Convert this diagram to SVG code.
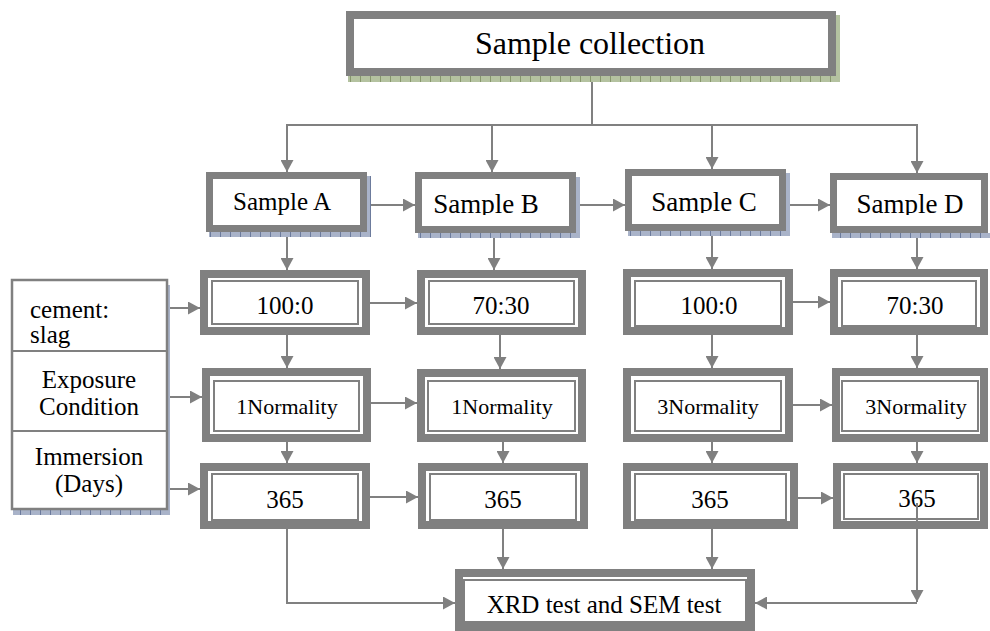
<svg xmlns="http://www.w3.org/2000/svg" width="990" height="631" viewBox="0 0 990 631">
<style>
.thick{fill:#fff;stroke:#808080;stroke-width:8}
.samp{fill:#fff;stroke:#808080;stroke-width:7}
.inner{fill:none;stroke:#808080;stroke-width:2}
.lbl{fill:#fff;stroke:#808080;stroke-width:2.5}
.t{fill:#000;text-anchor:middle}
.tl{fill:#000}
.c{fill:none;stroke:#808080;stroke-width:2}
.a{marker-end:url(#arr)}
.sb{fill:url(#blue)}
.sg{fill:url(#green)}
</style>
<defs>
<marker id="arr" markerUnits="userSpaceOnUse" markerWidth="13" markerHeight="13" refX="12" refY="6.5" orient="auto" viewBox="0 0 13 13">
<path d="M0,0 L12,6.5 L0,13 z" fill="#808080"/>
</marker>
<pattern id="blue" width="10" height="10" patternUnits="userSpaceOnUse">
<rect width="10" height="10" fill="#a9b3c9"/>
<rect x="0" y="0" width="1" height="10" fill="#6c7b9c"/>
</pattern>
<pattern id="green" width="10" height="10" patternUnits="userSpaceOnUse">
<rect width="10" height="10" fill="#b4c2a0"/>
<rect x="0" y="0" width="1" height="10" fill="#87976c"/>
</pattern>
<clipPath id="cB"><rect x="415" y="172" width="161" height="43"/></clipPath>
<clipPath id="cC"><rect x="625" y="169" width="161" height="44"/></clipPath>
<clipPath id="cD"><rect x="830" y="173" width="160" height="42"/></clipPath>
</defs>

<g id="connectors">
<line class="c" x1="592" y1="80" x2="592" y2="125"/>
<line class="c" x1="286" y1="125" x2="918" y2="125"/>
<line class="c a" x1="287" y1="125" x2="287" y2="172"/>
<line class="c a" x1="492" y1="125" x2="492" y2="172"/>
<line class="c a" x1="712" y1="125" x2="712" y2="169"/>
<line class="c a" x1="917" y1="125" x2="917" y2="173"/>

<line class="c a" x1="371" y1="205" x2="415" y2="205"/>
<line class="c a" x1="580" y1="205" x2="625" y2="205"/>
<line class="c a" x1="790" y1="205" x2="830" y2="205"/>

<line class="c a" x1="287" y1="237" x2="287" y2="270"/>
<line class="c a" x1="494" y1="237" x2="494" y2="270"/>
<line class="c a" x1="712" y1="236" x2="712" y2="269"/>
<line class="c a" x1="917" y1="238" x2="917" y2="269"/>

<line class="c a" x1="167" y1="308" x2="200" y2="308"/>
<line class="c a" x1="370" y1="303" x2="417" y2="303"/>
<line class="c a" x1="793" y1="302" x2="830" y2="302"/>

<line class="c a" x1="287" y1="335" x2="287" y2="368"/>
<line class="c a" x1="500" y1="335" x2="500" y2="369"/>
<line class="c a" x1="712" y1="335" x2="712" y2="368"/>
<line class="c a" x1="917" y1="335" x2="917" y2="368"/>

<line class="c a" x1="167" y1="397" x2="202" y2="397"/>
<line class="c a" x1="371" y1="403" x2="417" y2="403"/>
<line class="c a" x1="793" y1="405" x2="832" y2="405"/>

<line class="c a" x1="287" y1="442" x2="287" y2="463"/>
<line class="c a" x1="503" y1="442" x2="503" y2="463"/>
<line class="c a" x1="712" y1="442" x2="712" y2="463"/>
<line class="c a" x1="917" y1="442" x2="917" y2="463"/>

<line class="c a" x1="167" y1="489" x2="200" y2="489"/>
<line class="c a" x1="370" y1="497" x2="418" y2="497"/>
<line class="c a" x1="798" y1="498" x2="833" y2="498"/>

<polyline class="c a" points="287,529 287,603 455,603"/>
<line class="c a" x1="503" y1="529" x2="503" y2="569"/>
<line class="c a" x1="712" y1="529" x2="712" y2="569"/>
</g>

<g font-family="'Liberation Serif', 'Times New Roman', 'DejaVu Serif', serif">
<g id="sample-collection">
<rect class="sg" x="348" y="76" width="490" height="6"/>
<rect class="sg" x="836" y="15" width="4" height="67"/>
<rect class="thick" x="350" y="15" width="482" height="57"/>
<text class="t" x="590" y="54" font-size="32">Sample collection</text>
</g>

<g id="sample-a">
<rect class="sb" x="209" y="232" width="162" height="5"/>
<rect class="sb" x="367" y="176" width="4" height="61"/>
<rect class="samp" x="209.5" y="175.5" width="154" height="53"/>
<text class="t" x="282" y="210" font-size="25">Sample A</text>
</g>

<g id="sample-b">
<rect class="sb" x="418" y="233" width="162" height="5"/>
<rect class="sb" x="576" y="177" width="4" height="61"/>
<rect class="samp" x="418.5" y="175.5" width="154" height="54"/>
<text class="t" x="486" y="213" font-size="27" clip-path="url(#cB)">Sample B</text>
</g>

<g id="sample-c">
<rect class="sb" x="628" y="231" width="162" height="5"/>
<rect class="sb" x="786" y="173" width="4" height="63"/>
<rect class="samp" x="628.5" y="172.5" width="154" height="55"/>
<text class="t" x="704" y="211" font-size="27" clip-path="url(#cC)">Sample C</text>
</g>

<g id="sample-d">
<rect class="sb" x="832" y="233" width="158" height="5"/>
<rect class="samp" x="833.5" y="176.5" width="151" height="53"/>
<text class="t" x="910" y="213" font-size="27" clip-path="url(#cD)">Sample D</text>
</g>

<g id="labels">
<rect class="sb" x="13" y="509" width="157" height="6"/>
<rect class="sb" x="167" y="285" width="3" height="230"/>
<rect class="lbl" x="12" y="280" width="155" height="229"/>
<line class="c" x1="12" y1="351" x2="167" y2="351" stroke-width="2.5"/>
<line class="c" x1="12" y1="431" x2="167" y2="431" stroke-width="2.5"/>
<text class="tl" x="30" y="318" font-size="25">cement:</text>
<text class="tl" x="30" y="343" font-size="25">slag</text>
<text class="t" x="89" y="388" font-size="25">Exposure</text>
<text class="t" x="89" y="415" font-size="25">Condition</text>
<text class="t" x="89" y="465" font-size="25">Immersion</text>
<text class="t" x="89" y="492" font-size="25">(Days)</text>
</g>

<g id="ratio-a">
<rect class="thick" x="204" y="274" width="162" height="57"/>
<rect class="inner" x="212" y="281" width="146" height="43"/>
<text class="t" x="285" y="314" font-size="25">100:0</text>
</g>
<g id="ratio-b">
<rect class="thick" x="421" y="274" width="161" height="57"/>
<rect class="inner" x="429" y="281" width="145" height="43"/>
<text class="t" x="501" y="314" font-size="25">70:30</text>
</g>
<g id="ratio-c">
<rect class="thick" x="627" y="273" width="162" height="58"/>
<rect class="inner" x="635" y="281" width="146" height="45"/>
<text class="t" x="709" y="314" font-size="25">100:0</text>
</g>
<g id="ratio-d">
<rect class="thick" x="834" y="273" width="150" height="58"/>
<rect class="inner" x="842" y="281" width="134" height="45"/>
<text class="t" x="915" y="314" font-size="25">70:30</text>
</g>

<g id="norm-a">
<rect class="thick" x="206" y="372" width="161" height="66"/>
<rect class="inner" x="214" y="381" width="145" height="50"/>
<text class="t" x="287" y="414" font-size="22">1Normality</text>
</g>
<g id="norm-b">
<rect class="thick" x="421" y="373" width="161" height="65"/>
<rect class="inner" x="428" y="381" width="147" height="50"/>
<text class="t" x="502" y="414" font-size="22">1Normality</text>
</g>
<g id="norm-c">
<rect class="thick" x="627" y="372" width="162" height="66"/>
<rect class="inner" x="635" y="381" width="146" height="50"/>
<text class="t" x="708" y="414" font-size="22">3Normality</text>
</g>
<g id="norm-d">
<rect class="thick" x="836" y="372" width="148" height="66"/>
<rect class="inner" x="842" y="381" width="136" height="50"/>
<text class="t" x="916" y="414" font-size="22">3Normality</text>
</g>

<g id="days-a">
<rect class="thick" x="204" y="467" width="162" height="58"/>
<rect class="inner" x="212" y="474" width="146" height="46"/>
<text class="t" x="285" y="508" font-size="25">365</text>
</g>
<g id="days-b">
<rect class="thick" x="422" y="467" width="162" height="58"/>
<rect class="inner" x="430" y="474" width="146" height="46"/>
<text class="t" x="503" y="508" font-size="25">365</text>
</g>
<g id="days-c">
<rect class="thick" x="627" y="467" width="167" height="58"/>
<rect class="inner" x="635" y="474" width="151" height="46"/>
<text class="t" x="710" y="508" font-size="25">365</text>
</g>
<g id="days-d">
<rect class="thick" x="837" y="467" width="147" height="58"/>
<rect class="inner" x="844" y="474" width="134" height="45"/>
<text class="t" x="917" y="507" font-size="25">365</text>
</g>

<g id="xrd">
<rect class="thick" x="459" y="573" width="292" height="54"/>
<rect class="inner" x="464" y="580" width="282" height="42"/>
<text class="t" x="604" y="613" font-size="25">XRD test and SEM test</text>
</g>
</g>

<g id="connectors-top">
<line class="c a" x1="917" y1="503" x2="917" y2="602"/>
<line class="c a" x1="917" y1="603" x2="755" y2="603"/>
</g>
</svg>
